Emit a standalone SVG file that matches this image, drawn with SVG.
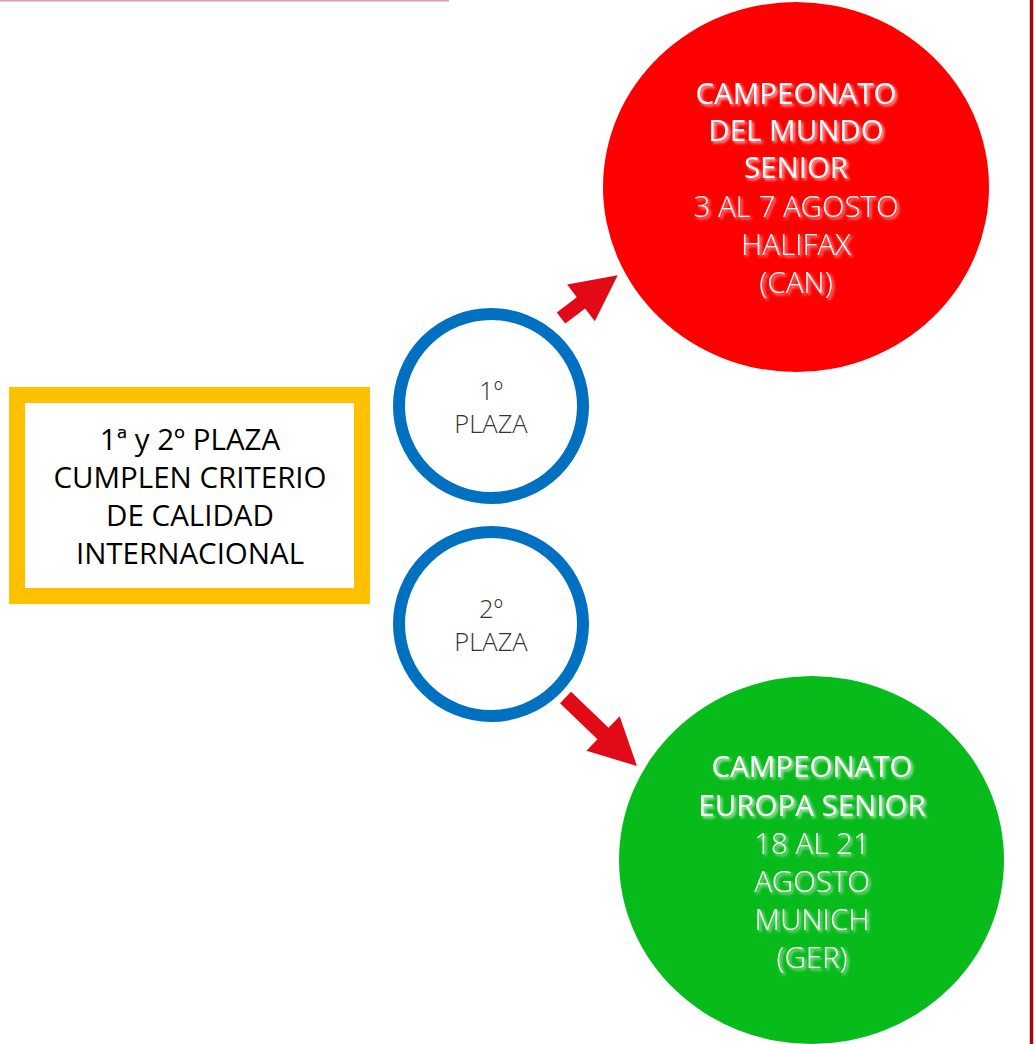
<svg xmlns="http://www.w3.org/2000/svg" width="1035" height="1044" viewBox="0 0 1035 1044">
<defs>
<filter id="glow" x="-10%" y="-30%" width="120%" height="160%">
<feGaussianBlur in="SourceAlpha" stdDeviation="1.5"/>
<feOffset dx="1.5" dy="1.5" result="b"/>
<feFlood flood-color="#ffffff" flood-opacity="0.75"/>
<feComposite in2="b" operator="in" result="s"/>
<feMerge><feMergeNode in="s"/><feMergeNode in="SourceGraphic"/></feMerge>
</filter>
</defs>
<style>
.t{font-family:"Open Sans","Liberation Sans",sans-serif;text-anchor:middle}
.box{font-size:29.5px;fill:#000}
.plaza{font-size:25.5px;fill:#333;font-weight:300}
.hb{font-size:29.5px;fill:#fff;font-weight:400}
.hl{font-size:29.5px;fill:#fff;font-weight:300}
.arrow{fill:#e20a17}
</style>
<rect width="1035" height="1044" fill="#fff"/>
<line x1="0" y1="0.75" x2="449" y2="0.75" stroke="#e09aa2" stroke-width="1.5"/>
<line x1="1031.5" y1="0" x2="1031.5" y2="1044" stroke="#a60412" stroke-width="3.5"/>

<g id="criterio">
<rect x="17" y="395" width="345" height="201" fill="#fff" stroke="#ffc000" stroke-width="16"/>
<text class="t box" x="190" y="450">1ª y 2º PLAZA</text>
<text class="t box" x="190" y="488">CUMPLEN CRITERIO</text>
<text class="t box" x="190" y="526">DE CALIDAD</text>
<text class="t box" x="190" y="564">INTERNACIONAL</text>
</g>

<g id="plaza1">
<circle cx="491" cy="406" r="92" fill="#fff" stroke="#0070c0" stroke-width="12"/>
<text class="t plaza" x="491" y="400">1º</text>
<text class="t plaza" x="491" y="433">PLAZA</text>
</g>

<g id="plaza2">
<circle cx="491" cy="624" r="92" fill="#fff" stroke="#0070c0" stroke-width="12"/>
<text class="t plaza" x="491" y="618">2º</text>
<text class="t plaza" x="491" y="651">PLAZA</text>
</g>

<g id="mundo">
<ellipse cx="796" cy="187" rx="193" ry="185" fill="#ff0000"/>
<g filter="url(#glow)">
<text class="t hb" x="796" y="104">CAMPEONATO</text>
<text class="t hb" x="796" y="141">DEL MUNDO</text>
<text class="t hb" x="796" y="178">SENIOR</text>
<text class="t hl" x="796" y="217">3 AL 7 AGOSTO</text>
<text class="t hl" x="796" y="255">HALIFAX</text>
<text class="t hl" x="796" y="293">(CAN)</text>
</g>
</g>

<g id="europa">
<ellipse cx="811.5" cy="860" rx="192.5" ry="184" fill="#07bb1b"/>
<g filter="url(#glow)">
<text class="t hb" x="812" y="777">CAMPEONATO</text>
<text class="t hb" x="812" y="816">EUROPA SENIOR</text>
<text class="t hl" x="812" y="854">18 AL 21</text>
<text class="t hl" x="812" y="892">AGOSTO</text>
<text class="t hl" x="812" y="930">MUNICH</text>
<text class="t hl" x="812" y="968">(GER)</text>
</g>
</g>

<g id="connectors">
<polygon class="arrow" transform="translate(561,318) rotate(-37)" points="0,-7 25,-7 25,-23 71,0 25,23 25,7 0,7"/>
<polygon class="arrow" transform="translate(565.5,697.5) rotate(43.8)" points="0,-8 52,-8 52,-24 99,0 52,24 52,8 0,8"/>
</g>
</svg>
